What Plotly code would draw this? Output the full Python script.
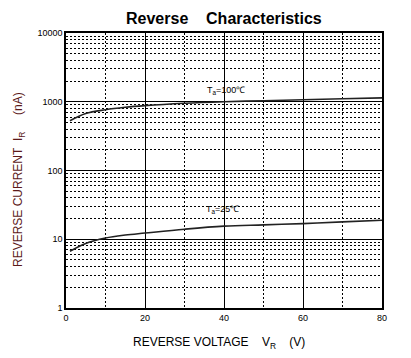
import plotly.graph_objects as go

vr = [1, 5, 10, 15, 20, 30, 40, 50, 60, 70, 80]
ir_100 = [529, 675, 765, 830, 878, 950, 1000, 1035, 1070, 1105, 1140]
ir_25 = [6.7, 8.7, 10.4, 11.5, 12.3, 14.0, 15.5, 16.2, 16.9, 17.9, 18.9]

x_ticks = [0, 20, 40, 60, 80]
y_ticks = [1, 10, 100, 1000, 10000]

# page has an 8px body margin; figure coordinates = page coordinates - 8
OFF = 8
W, H = 411 - OFF, 358 - OFF
PL, PR, PT, PB = 66 - OFF, 382 - OFF, 33 - OFF, 308 - OFF


def px(x):
    return (x - OFF - PL) / (PR - PL)


def py(y):
    return (PB - (y - OFF)) / (PB - PT)


fig = go.Figure()
for y in (ir_100, ir_25):
    fig.add_trace(go.Scatter(x=vr, y=y, mode="lines", line=dict(color="#222", width=1.6, shape="spline", smoothing=1.0),
                             hoverinfo="skip", showlegend=False))

font = "Liberation Sans, Arial, sans-serif"
grid_common = dict(showgrid=True, gridcolor="black", gridwidth=1, zeroline=False,
                   showline=True, linecolor="black", linewidth=1.5, mirror=True,
                   ticks="", tickfont=dict(size=9))
fig.update_layout(
    width=W, height=H,
    margin=dict(l=PL, r=W - PR, t=PT, b=H - PB),
    paper_bgcolor="white", plot_bgcolor="white",
    font=dict(family=font, color="black", size=9),
    xaxis=dict(range=[0, 80], tickvals=x_ticks, ticktext=[str(v) for v in x_ticks],
               minor=dict(dtick=10, showgrid=True, gridcolor="black", griddash="2px,2px", gridwidth=1),
               **grid_common),
    yaxis=dict(type="log", range=[0, 4], tickvals=y_ticks, ticktext=[str(v) for v in y_ticks],
               minor=dict(dtick="D1", showgrid=True, gridcolor="black", griddash="2px,2px", gridwidth=1),
               **grid_common),
)

annots = [
    ("<b>Reverse&nbsp;&nbsp;&nbsp;&nbsp;Characteristics</b>", 224, 19, 16, "black", 0),
    ("REVERSE VOLTAGE&nbsp;&nbsp;&nbsp;&nbsp;V<sub>R</sub>&nbsp;&nbsp;&nbsp;&nbsp;(V)", 219, 343, 12, "black", 0),
    ("REVERSE CURRENT&nbsp;&nbsp;I<sub>R</sub>&nbsp;&nbsp;&nbsp;&nbsp;&nbsp;(nA)", 19, 180, 12, "#5c1a1a", -90),
    ("T<sub>a</sub>=100℃", 226, 90, 9, "black", 0),
    ("T<sub>a</sub>=25℃", 222, 210, 9, "black", 0),
]
for text, x, y, size, color, ang in annots:
    fig.add_annotation(text=text, x=px(x), y=py(y), xref="paper", yref="paper", showarrow=False,
                       xanchor="center", yanchor="middle", textangle=ang,
                       font=dict(size=size, family=font, color=color))

fig.write_html("out.html")
